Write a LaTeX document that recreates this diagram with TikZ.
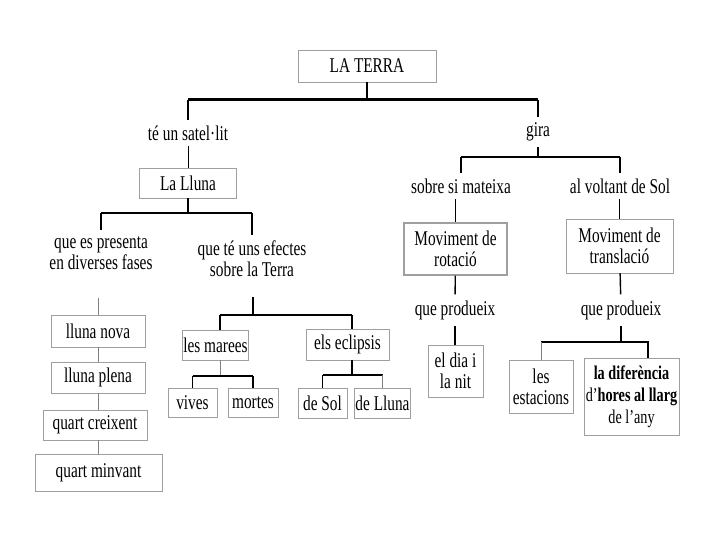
\documentclass[tikz,border=0pt]{standalone}
\usepackage{fontspec}
\setmainfont{Liberation Serif}[FakeStretch=0.73]
\usepackage{tikz}
\usetikzlibrary{calc}
\usetikzlibrary{positioning}
\tikzstyle{caixa} = [rectangle, draw=gray!75, line width=0.8pt, align=center, inner sep=1pt]
\tikzstyle{enllac} = [rectangle, align=center, inner sep=1pt, outer sep=5pt]
\tikzstyle{linia} = [-, draw=black, line width=1.4pt]
\tikzstyle{fina} = [-, draw=gray, line width=1pt]
\tikzstyle{barra} = [-, draw=black, line width=3pt]

\begin{document}
\begin{tikzpicture}[x=1pt, y=-1pt, font=\fontsize{21}{21}\selectfont]
\useasboundingbox [fill=white] (0,0) rectangle (720,540);
\node [caixa, minimum width=138, minimum height=32] (T) at (367,66) {LA TERRA};
\node [enllac] (S) at (188,133) {té un satel·lit};
\node [enllac] (G) at (538,132) {gira};
\node [caixa, minimum width=97, minimum height=30] (L) at (188,183) {La Lluna};
\node [enllac] (SM) at (461,186) {sobre si mateixa};
\node [enllac] (AV) at (620,186) {al voltant de Sol};
\node [enllac] (F) at (101,253) {que es presenta\\en diverses fases};
\node [enllac] (E) at (252,259) {que té uns efectes\\sobre la Terra};
\node [caixa, minimum width=94, minimum height=32] (N1) at (98,331) {lluna nova};
\node [caixa, minimum width=94, minimum height=31] (N2) at (98,377.5) {lluna plena};
\node [caixa, minimum width=104, minimum height=30] (N3) at (95,425) {quart creixent};
\node [caixa, minimum width=127, minimum height=37] (N4) at (98.5,472.5) {quart minvant};
\node [caixa, minimum width=65, minimum height=30] (M) at (215.5,345) {les marees};
\node [caixa, minimum width=83, minimum height=31] (Ec) at (347.5,344.5) {els eclipsis};
\node [caixa, minimum width=49, minimum height=29] (V) at (192.5,402.5) {vives};
\node [caixa, minimum width=50, minimum height=29] (Mo) at (253,402.5) {mortes};
\node [caixa, minimum width=49, minimum height=30] (DS) at (322.5,403) {de Sol};
\node [caixa, minimum width=55, minimum height=30] (DL) at (382.5,403) {de Lluna};
\node [caixa, line width=1.3pt, minimum width=103, minimum height=52] (R) at (455.5,249) {Moviment de\\rotació};
\node [caixa, minimum width=107, minimum height=54] (Tr) at (619.5,246) {Moviment de\\translació};
\node [enllac] (P1) at (455,310) {que produeix};
\node [enllac] (P2) at (621,310) {que produeix};
\node [caixa, minimum width=55, minimum height=52] (DN) at (455.5,371) {el dia i\\la nit};
\node [caixa, minimum width=64, minimum height=53] (Es) at (541,386.5) {les\\estacions};
\node [caixa, minimum width=95, minimum height=77, font=\fontsize{19.5}{22}\selectfont] (Di) at (631.5,396.5) {\textbf{la diferència}\\d’\textbf{hores al llarg}\\de l’any};
\coordinate (tj) at (367,100);
\coordinate (gj) at (538,157);
\coordinate (lj) at (188,213);
\coordinate (ej) at (253,315);
\coordinate (mj) at (220,376);
\coordinate (cj) at (352,375);
\coordinate (pj) at (621,342);
\draw [linia] (T) to (tj);
\draw [barra] (tj -| S) to (tj -| G);
\draw [linia] (tj -| S) to (S);
\draw [linia] (tj -| G) to (G);
\draw [linia, line width=1pt] (S) to (L);
\draw [linia] (G) to (gj);
\draw [linia] (gj -| SM) to (gj -| AV);
\draw [linia] (gj -| SM) to (SM);
\draw [linia] (gj -| AV) to (AV);
\draw [linia] (L) to (lj);
\draw [linia] (lj -| F) to (lj -| E);
\draw [linia] (lj -| F) to (F);
\draw [linia] (lj -| E) to (E);
\draw [fina, shorten <=22pt] (F.south -| N1) to (N1);
\draw [fina] (N1) to (N2);
\draw [fina] (N2.south) to (N2.south |- N3.north);
\draw [fina] (N2.south |- N3.south) to (N2.south |- N4.north);
\draw [linia, shorten <=14pt] (E.south -| ej) to (ej);
\draw [linia] (ej -| mj) to (ej -| cj);
\draw [linia] (ej -| mj) to (mj |- M.north);
\draw [linia] (ej -| cj) to (cj |- Ec.north);
\draw [fina] (M.south -| mj) to (mj);
\draw [linia] (mj -| V) to (mj -| Mo);
\draw [linia] (mj -| V) to (V);
\draw [linia] (mj -| Mo) to (Mo);
\draw [linia] (Ec.south -| cj) to (cj);
\draw [linia] (cj -| DS) to (cj -| DL);
\draw [linia] (cj -| DS) to (DS);
\draw [fina] (cj -| DL) to (DL);
\draw [linia] (SM.south -| R) to (R);
\draw [linia] (R) to (P1);
\draw [linia] (P1) to (P1 |- DN.north);
\draw [linia] (AV.south -| Tr) to (Tr);
\draw [linia] (Tr) to (P2);
\draw [linia] (P2) to (pj);
\draw [linia] (pj) to ++(27,0) coordinate (dj) to (dj |- Di.north);
\draw [linia] (pj) to (pj -| Es);
\draw [fina] (pj -| Es) to (Es);
\end{tikzpicture}
\end{document}
